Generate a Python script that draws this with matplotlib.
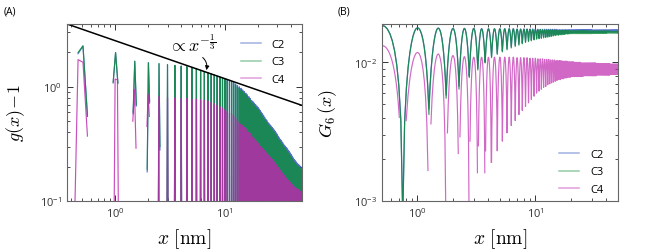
import numpy as np
import matplotlib.pyplot as plt

plt.rcParams['font.family'] = ['Open Sans', 'DejaVu Sans']
plt.rcParams['mathtext.fontset'] = 'cm'

nan = np.nan
labels = ["C2", "C3", "C4"]
colors = ["#3050c0", "#0f8c3c", "#be28af"]

# ---------------- panel A: g(x) - 1 ----------------
# first few peaks, sampled points (nan = g(x)-1 < 0, not drawn)
a_early_x = [0.46, 0.51, 0.56, nan, 0.96, 1.01, 1.06, nan, 1.46, 1.51, 1.56, nan,
             1.96, 2.01, 2.06, nan, 2.46, 2.51, 2.56]
a_c2_early = [1.95, 2.27, 0.55, nan, 1.08, 1.99, 1.07, nan, 0.58, 1.67, 0.68, nan,
              0.18, 1.62, 0.72, nan, 0.01, 1.59, 0.28]
a_c3_early = [2.00, 2.29, 0.565, nan, 1.10, 2.00, 1.09, nan, 0.60, 1.68, 0.70, nan,
              0.19, 1.63, 0.75, nan, 0.01, 1.60, 0.30]
a_c4_early_x = [0.41, 0.46, 0.51, 0.56, nan, 0.965, 1.0, 1.05, 1.087, nan, 1.45, 1.50, 1.55, nan,
                1.95, 2.00, 2.05, nan, 2.45, 2.50, 2.55]
a_c4_early = [0.01, 1.73, 1.64, 0.37, nan, 0.01, 1.17, 1.15, 0.01, nan, 0.50, 0.95, 0.29, nan,
              0.45, 0.86, 0.55, nan, 0.01, 0.82, 0.01]

# peak positions of the dense part (nm) and peak heights
a_peak_x = [3.0, 3.5, 4.0, 4.5, 5.0,
            5.5, 6.0, 6.5, 7.0, 7.5, 8.0, 8.5, 9.0, 9.5, 10.0,
            10.5, 11.0, 11.5, 12.0, 12.5, 13.0, 13.5, 14.0, 14.5, 15.0,
            15.5, 16.0, 16.5, 17.0, 17.5, 18.0, 18.5, 19.0, 19.5, 20.0,
            20.5, 21.0, 21.5, 22.0, 22.5, 23.0, 23.5, 24.0, 24.5, 25.0,
            25.5, 26.0, 26.5, 27.0, 27.5, 28.0, 28.5, 29.0, 29.5, 30.0,
            30.5, 31.0, 31.5, 32.0, 32.5, 33.0, 33.5, 34.0, 34.5, 35.0,
            35.5, 36.0, 36.5, 37.0, 37.5, 38.0, 38.5, 39.0, 39.5, 40.0,
            40.5, 41.0, 41.5, 42.0, 42.5, 43.0, 43.5, 44.0, 44.5, 45.0,
            45.5, 46.0, 46.5, 47.0, 47.5, 48.0, 48.5, 49.0, 49.5, 50.0]
a_c2_top = [1.56, 1.54, 1.52, 1.50, 1.48,
            1.44, 1.40, 1.36, 1.33, 1.30, 1.27, 1.24, 1.22, 1.20, 1.18,
            1.16, 1.14, 1.12, 1.09, 1.06, 1.03, 1.00, 0.97, 0.94, 0.91,
            0.88, 0.85, 0.82, 0.79, 0.76, 0.74, 0.72, 0.70, 0.68, 0.66,
            0.64, 0.62, 0.60, 0.58, 0.56, 0.54, 0.52, 0.51, 0.49, 0.48,
            0.47, 0.46, 0.45, 0.44, 0.43, 0.42, 0.41, 0.40, 0.39, 0.38,
            0.37, 0.36, 0.35, 0.345, 0.34, 0.33, 0.325, 0.315, 0.31, 0.305,
            0.30, 0.295, 0.29, 0.285, 0.28, 0.275, 0.27, 0.265, 0.26, 0.255,
            0.25, 0.245, 0.24, 0.236, 0.232, 0.228, 0.225, 0.222, 0.219, 0.216,
            0.213, 0.211, 0.209, 0.207, 0.205, 0.203, 0.201, 0.199, 0.197, 0.195]
a_c3_top = [1.57, 1.54, 1.52, 1.50, 1.48,
            1.43, 1.39, 1.35, 1.32, 1.29, 1.26, 1.23, 1.21, 1.18, 1.16,
            1.13, 1.11, 1.09, 1.06, 1.03, 1.00, 0.97, 0.94, 0.91, 0.88,
            0.85, 0.82, 0.79, 0.76, 0.73, 0.71, 0.69, 0.67, 0.65, 0.63,
            0.61, 0.59, 0.57, 0.55, 0.53, 0.52, 0.50, 0.49, 0.47, 0.46,
            0.45, 0.44, 0.43, 0.42, 0.41, 0.40, 0.39, 0.38, 0.37, 0.36,
            0.35, 0.34, 0.335, 0.33, 0.32, 0.315, 0.31, 0.30, 0.295, 0.29,
            0.285, 0.28, 0.275, 0.27, 0.265, 0.26, 0.255, 0.25, 0.245, 0.24,
            0.236, 0.232, 0.228, 0.224, 0.22, 0.217, 0.214, 0.211, 0.208, 0.205,
            0.203, 0.201, 0.199, 0.197, 0.195, 0.193, 0.191, 0.189, 0.187, 0.185]
a_c4_top = [0.80, 0.80, 0.79, 0.79, 0.78,
            0.78, 0.77, 0.76, 0.75, 0.73, 0.71, 0.69, 0.67, 0.65, 0.63,
            0.61, 0.59, 0.57, 0.55, 0.53, 0.51, 0.49, 0.47, 0.46, 0.44,
            0.43, 0.41, 0.40, 0.39, 0.37, 0.36, 0.35, 0.34, 0.33, 0.32,
            0.31, 0.30, 0.295, 0.29, 0.28, 0.275, 0.27, 0.26, 0.255, 0.25,
            0.245, 0.24, 0.235, 0.23, 0.225, 0.22, 0.215, 0.21, 0.205, 0.20,
            0.196, 0.192, 0.188, 0.184, 0.18, 0.177, 0.174, 0.171, 0.168, 0.165,
            0.162, 0.159, 0.156, 0.154, 0.152, 0.15, 0.148, 0.146, 0.144, 0.142,
            0.14, 0.138, 0.136, 0.134, 0.133, 0.132, 0.131, 0.13, 0.129, 0.128,
            0.127, 0.126, 0.125, 0.124, 0.123, 0.122, 0.121, 0.12, 0.119, 0.118]

# the x^(-1/3) guide line, end points
guide_x = [0.365, 52.0]
guide_y = [3.55, 0.68]

# ---------------- panel B: G6(x) ----------------
b_peak_x = [0.5, 1.0, 1.5, 2.0, 2.5, 3.0, 3.5, 4.0, 4.5, 5.0] + a_peak_x[5:]
b_c2_top = ([0.0185, 0.0178, 0.0177, 0.0176, 0.0176, 0.0176, 0.0175, 0.0175, 0.0175, 0.0175,
             0.0175, 0.0175, 0.0175, 0.0174, 0.0174, 0.0174, 0.0174, 0.0174, 0.0174, 0.0174,
             0.0173, 0.0173, 0.0173, 0.0173, 0.0173, 0.0173, 0.0173, 0.0173, 0.0173, 0.0173]
            + [0.0172] * 30 + [0.0171] * 40)
b_c2_dip = ([0.0185,
             0.0008, 0.0046, 0.0058, 0.0067, 0.0080, 0.0090, 0.0101, 0.0110, 0.0116, 0.0121,
             0.0125, 0.0129, 0.0132, 0.0135, 0.0138, 0.0141, 0.0143, 0.0145, 0.0147, 0.0149,
             0.0150, 0.0151, 0.0152, 0.0153, 0.0154, 0.0155, 0.0156, 0.0157, 0.0158, 0.0159,
             0.0159, 0.0160, 0.0160, 0.0161, 0.0161, 0.0162, 0.0162, 0.0162, 0.0163, 0.0163]
            + [0.0164] * 20 + [0.0165] * 20 + [0.0166] * 20)
b_c3_top = ([0.0184, 0.0177, 0.0176, 0.0175, 0.0175, 0.0175, 0.0174, 0.0174, 0.0174, 0.0174,
             0.0174, 0.0174, 0.0174, 0.0173, 0.0173, 0.0173, 0.0173, 0.0173, 0.0172, 0.0172,
             0.0172, 0.0172, 0.0172, 0.0171, 0.0171, 0.0171, 0.0171, 0.0171, 0.0170, 0.0170,
             0.0170, 0.0170, 0.0170, 0.0170, 0.0170, 0.0170, 0.0170, 0.0170, 0.0169, 0.0169]
            + [0.0169] * 15 + [0.0168] * 30 + [0.0167] * 15)
b_c3_dip = ([0.0184,
             0.0007, 0.0042, 0.0055, 0.0064, 0.0078, 0.0088, 0.0099, 0.0108, 0.0114, 0.0119,
             0.0123, 0.0127, 0.0130, 0.0133, 0.0136, 0.0139, 0.0141, 0.0143, 0.0145, 0.0147,
             0.0148, 0.0149, 0.0150, 0.0151, 0.0152, 0.0153, 0.0154, 0.0155, 0.0156, 0.0157,
             0.0157, 0.0158, 0.0158, 0.0159, 0.0159, 0.0160, 0.0160, 0.0160, 0.0161, 0.0161]
            + [0.0161] * 20 + [0.0162] * 20 + [0.0163] * 20)

# C4: the first arches are cut where G6 < 0
b_c4_gap_x = [0.5, 1.0, 1.5, 2.0, 2.5, 3.0, 3.5, 4.0]
b_c4_gap_top = [0.0132, 0.0118, 0.0115, 0.0112, 0.0110, 0.0109, 0.0109, 0.0109]
b_c4_gap_left = [0.0132, 0.0038, 0.0036, 0.0031, 0.0029, 0.0027, 0.0025, 0.0023]
b_c4_gap_right = [0.0040, 0.00166, 0.0008, 0.0022, 0.0008, 0.0016, 0.0016, 0.0019]
b_c4_x = b_peak_x[8:]
b_c4_top = ([0.0109, 0.0109,
             0.0109, 0.0109, 0.0109, 0.0108, 0.0108, 0.0108, 0.0108, 0.0107, 0.0107, 0.0107,
             0.0106, 0.0106, 0.0106, 0.0105, 0.0105, 0.0105, 0.0104, 0.0104, 0.0104, 0.0103,
             0.0103, 0.0103, 0.0103, 0.0102, 0.0102, 0.0102, 0.0102, 0.0101, 0.0101, 0.0101,
             0.0101, 0.0101, 0.0100, 0.0100, 0.0100, 0.0100, 0.0100, 0.0100, 0.0099, 0.0099]
            + [0.0099] * 15 + [0.0098] * 20 + [0.0097] * 15)
b_c4_dip = ([0.0019, 0.0023, 0.0027,
             0.0031, 0.0035, 0.0038, 0.0042, 0.0045, 0.0048, 0.0051, 0.0054, 0.0057, 0.0060,
             0.0062, 0.0064, 0.0066, 0.0067, 0.0069, 0.0070, 0.0071, 0.0072, 0.0073, 0.0074,
             0.0075, 0.0075, 0.0076, 0.0076, 0.0077, 0.0077, 0.0078, 0.0078, 0.0078, 0.0079]
            + [0.0079] * 10 + [0.0080] * 15 + [0.0081] * 20 + [0.0082] * 15)


def spikes(xs, tops, half=0.05, floor=0.01):
    px, py = [], []
    for x, t in zip(xs, tops):
        px += [x - half, x, x + half, nan]
        py += [floor, t, floor, nan]
    return px, py


def joined_arches(xs, tops, dips, half=0.25, n=10):
    px, py = [], []
    u = np.linspace(0, 1, n)
    for i, (x, t) in enumerate(zip(xs, tops)):
        vl, vr = dips[i], dips[i + 1]
        px += list(x - half * u[::-1])
        py += list(vl + (t - vl) * np.cos(np.pi * u[::-1] / 2))
        px += list(x + half * u[1:])
        py += list(vr + (t - vr) * np.cos(np.pi * u[1:] / 2))
    return px, py


def cut_arches(xs, tops, lefts, rights, n=16):
    px, py = [], []
    for x, t, l, r in zip(xs, tops, lefts, rights):
        al = np.arccos(min(l / t, 1.0)) / (2 * np.pi)
        ar = np.arccos(min(r / t, 1.0)) / (2 * np.pi)
        s = np.linspace(-al, ar, n)
        px += list(x + s) + [nan]
        py += list(t * np.cos(2 * np.pi * s)) + [nan]
    return px, py


def light_legend(ax, **kw):
    leg = ax.legend(frameon=False, fontsize=8, handlelength=1.8, handletextpad=1.0,
                    labelspacing=0.55, **kw)
    for h in leg.get_lines():
        h.set_alpha(0.45)
        h.set_linewidth(1.1)
    return leg


fig = plt.figure(figsize=(6.52, 2.53), dpi=100)
axA = fig.add_axes([0.1028, 0.2016, 0.3604, 0.6996])
axB = fig.add_axes([0.5859, 0.2016, 0.3620, 0.6996])

lw, alpha = 0.85, 0.82

# panel A
early = [(a_early_x, a_c2_early), (a_early_x, a_c3_early), (a_c4_early_x, a_c4_early)]
tops = [a_c2_top, a_c3_top, a_c4_top]
for (ex, ey), t, c, lab in zip(early, tops, colors, labels):
    sx, sy = spikes(a_peak_x, t)
    axA.plot(list(ex) + [nan] + sx, list(ey) + [nan] + sy, color=c, lw=lw, alpha=alpha, label=lab)
axA.plot(guide_x, guide_y, color="k", lw=1.1)
axA.annotate(r"$\propto x^{-\frac{1}{3}}$", xy=(6.78, 1.40), xytext=(5.05, 2.37),
             fontsize=13, ha="center", va="center",
             arrowprops=dict(arrowstyle="-|>", connectionstyle="arc3,rad=-0.4", lw=0.7,
                             color="k", shrinkA=0, shrinkB=0, mutation_scale=6,
                             relpos=(0.62, 0.0)))
axA.set_xlim(0.365, 50.3)
axA.set_ylim(0.1, 3.55)
axA.set_ylabel(r"$g(x)\!-\!1$", fontsize=13, va="center")
light_legend(axA, loc="upper right", bbox_to_anchor=(0.97, 0.97))

# panel B
for t, d, c, lab in zip([b_c2_top, b_c3_top], [b_c2_dip, b_c3_dip], colors[:2], labels[:2]):
    ax_, ay_ = joined_arches(b_peak_x, t, d)
    axB.plot(ax_, ay_, color=c, lw=lw, alpha=alpha, label=lab)
gx, gy = cut_arches(b_c4_gap_x, b_c4_gap_top, b_c4_gap_left, b_c4_gap_right)
jx, jy = joined_arches(b_c4_x, b_c4_top, b_c4_dip)
axB.plot(gx + jx, gy + jy, color=colors[2], lw=lw, alpha=0.7, label=labels[2])
axB.set_xlim(0.5, 50.3)
axB.set_ylim(1e-3, 0.0189)
axB.set_ylabel(r"$G_6\,(x)$", fontsize=13, va="center")
light_legend(axB, loc="lower right", bbox_to_anchor=(0.98, -0.02))

for ax in (axA, axB):
    ax.set_xscale("log")
    ax.set_yscale("log")
    ax.minorticks_on()
    ax.yaxis.set_minor_formatter(plt.NullFormatter())
    ax.tick_params(which="both", direction="in", top=True, right=True,
                   labelsize=8, colors="#333333")
    ax.tick_params(which="major", length=4, width=0.7)
    ax.tick_params(which="minor", length=2, width=0.6)
    for s in ax.spines.values():
        s.set_color("#666666")
        s.set_linewidth(0.8)
    ax.set_xlabel(r"$x\ [\mathrm{nm}]$", fontsize=14)
    ax.xaxis.set_label_coords(0.5, -0.14)

axA.yaxis.set_label_coords(-0.22, 0.5)
axB.yaxis.set_label_coords(-0.23, 0.5)

fig.text(0.005, 0.953, "(A)", fontsize=7.5, va="center")
fig.text(0.518, 0.953, "(B)", fontsize=7.5, va="center")

fig.savefig("out.png", dpi=100)
